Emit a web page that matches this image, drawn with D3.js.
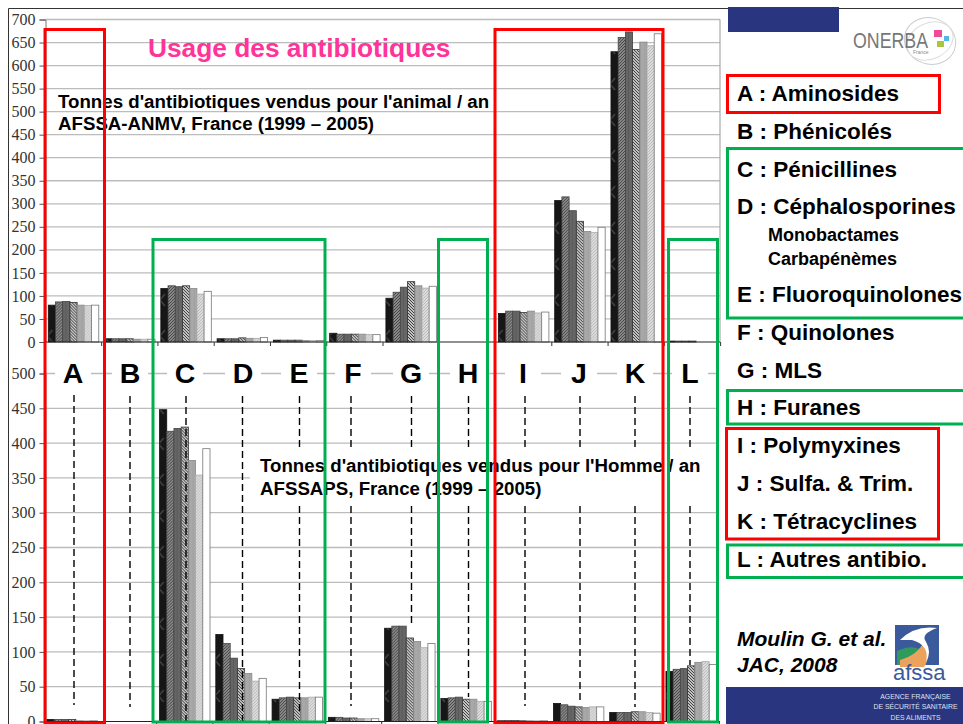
<!DOCTYPE html>
<html>
<head>
<meta charset="utf-8">
<script src="https://cdn.jsdelivr.net/npm/d3@7"></script>
<style>
  html, body { margin: 0; padding: 0; background: #fff; }
  svg { display: block; }
  text { font-family: "Liberation Sans", Arial, sans-serif; }
</style>
</head>
<body>
<svg id="chart" width="963" height="724"></svg>
<script>
// Data
const categories = ["A", "B", "C", "D", "E", "F", "G", "H", "I", "J", "K", "L"];
const years = ["1999", "2000", "2001", "2002", "2003", "2004", "2005"];

// tonnes per year, animal (one row per category)
const animalA = [80, 87, 88, 86, 80, 79, 80];
const animalB = [7, 7, 7, 7, 6, 6, 6];
const animalC = [116, 122, 120, 122, 116, 104, 110];
const animalD = [7, 7, 7, 9, 8, 8, 10];
const animalE = [4, 4, 4, 4, 3, 3, 3];
const animalF = [19, 17, 17, 17, 17, 16, 16];
const animalG = [95, 108, 119, 131, 122, 117, 121];
const animalH = [0, 0, 0, 0, 0, 0, 0];
const animalI = [62, 67, 67, 64, 67, 63, 65];
const animalJ = [307, 315, 285, 262, 240, 238, 249];
const animalK = [630, 661, 673, 635, 651, 643, 669];
const animalL = [2, 2, 2, 2, 0, 0, 0];
const animalValues = [animalA, animalB, animalC, animalD, animalE, animalF, animalG, animalH, animalI, animalJ, animalK, animalL];

// tonnes per year, human
const humanA = [3, 3, 3, 3, 1, 1, 1];
const humanB = [0, 0, 0, 0, 0, 0, 0];
const humanC = [448, 417, 421, 423, 375, 354, 392];
const humanD = [125, 112, 91, 76, 69, 58, 62];
const humanE = [32, 34, 35, 34, 34, 35, 35];
const humanF = [6, 6, 5, 5, 4, 4, 4];
const humanG = [134, 137, 137, 120, 115, 106, 112];
const humanH = [33, 34, 35, 32, 32, 29, 29];
const humanI = [1, 1.5, 1.5, 1, 1, 1, 1];
const humanJ = [26, 24, 22, 21, 20, 21, 21];
const humanK = [13, 13, 13, 14, 14, 13, 12];
const humanL = [72, 75, 76, 80, 85, 86, 82];
const humanValues = [humanA, humanB, humanC, humanD, humanE, humanF, humanG, humanH, humanI, humanJ, humanK, humanL];

const animalTicks = d3.range(0, 701, 50);
const humanTicks = d3.range(0, 501, 50);

const legendLines = [
  { text: "A : Aminosides", y: 100.5 },
  { text: "B : Phénicolés", y: 138.5 },
  { text: "C : Pénicillines", y: 176.5 },
  { text: "D : Céphalosporines", y: 213.5 },
  { text: "Monobactames", y: 241, small: true },
  { text: "Carbapénèmes", y: 265, small: true },
  { text: "E : Fluoroquinolones", y: 301.5 },
  { text: "F : Quinolones", y: 340 },
  { text: "G : MLS", y: 377.5 },
  { text: "H : Furanes", y: 414.5 },
  { text: "I : Polymyxines", y: 452.5 },
  { text: "J : Sulfa. & Trim.", y: 490.5 },
  { text: "K : Tétracyclines", y: 528.5 },
  { text: "L : Autres antibio.", y: 566.5 }
];

const svg = d3.select("#chart");
const defs = svg.append("defs");

// Fill patterns for the seven years. The scan leaves chevrons on the hatched ones.
function addPattern(id, size, bg, draw) {
  const p = defs.append("pattern")
    .attr("id", id)
    .attr("patternUnits", "userSpaceOnUse")
    .attr("width", size)
    .attr("height", size);
  p.append("rect").attr("width", size).attr("height", size).attr("fill", bg);
  draw(p);
}
function hatch(p, size, step, color, up) {
  d3.range(-size, size + 1, step).forEach(o => {
    p.append("line")
      .attr("x1", o).attr("y1", up ? size : 0)
      .attr("x2", o + size).attr("y2", up ? 0 : size)
      .attr("stroke", color)
      .attr("stroke-width", 0.9);
  });
}
function chevron(p, d, color) {
  p.append("path").attr("d", d).attr("fill", "none").attr("stroke", color).attr("stroke-width", 1.4);
}
addPattern("y0", 36, "#161616", p => {
  chevron(p, "M7 6L2 12L7 18", "#444");
});
addPattern("y1", 36, "#8a8a8a", p => {
  hatch(p, 36, 3, "#3c3c3c", true);
  chevron(p, "M2 20L7 26", "#222");
});
addPattern("y2", 4, "#666", p => {
  p.append("rect").attr("width", 1).attr("height", 4).attr("fill", "#5a5a5a");
});
addPattern("y3", 36, "#c4c4c4", p => {
  hatch(p, 36, 3, "#2e2e2e", false);
  chevron(p, "M1 12L7 18", "#111");
});
addPattern("y4", 4, "#a8a8a8", p => {
  p.append("rect").attr("width", 1).attr("height", 4).attr("fill", "#a0a0a0");
});
addPattern("y5", 3, "#dcdcdc", p => {
  p.append("path").attr("d", "M0 3L3 0").attr("stroke", "#b4b4b4").attr("stroke-width", 0.8);
});

const barFill = i => i === 6 ? "#fff" : `url(#y${i})`;
const barStroke = ["#111", "#444", "#444", "#333", "#888", "#aaa", "#777"];

// Scales
const yAnimal = d3.scaleLinear().domain([0, 700]).range([342, 19.5]);
const yHuman = d3.scaleLinear().domain([0, 500]).range([721.5, 373.5]);
const xAnimal = d3.scaleBand().domain(categories).range([45.4, 720.6]);
const xHuman = d3.scaleBand().domain(categories).range([44.1, 719.3]);
const xYear = d3.scaleBand().domain(d3.range(years.length)).range([2.9, xAnimal.bandwidth() - 2.9]);

// Outer frame
svg.append("path")
  .attr("d", "M8.5 724V8.5H963")
  .attr("fill", "none")
  .attr("stroke", "#333")
  .attr("stroke-width", 1);

// One panel of grouped bars, its grid and axis
function drawPanel(y, x, ticks, rows, hasFrame) {
  const panel = svg.append("g");
  const left = 45.5, right = 720;

  const grid = panel.append("g");
  grid.selectAll("line")
    .data(ticks.filter(d => d > 0))
    .enter()
    .append("line")
    .attr("x1", left)
    .attr("x2", hasFrame ? right : 716)
    .attr("y1", d => y(d))
    .attr("y2", d => y(d))
    .attr("stroke", "#bcbcbc")
    .attr("stroke-width", 1.3);

  if (hasFrame) {
    panel.append("path")
      .attr("d", `M${right} ${y(0)}V${y(700)}`)
      .attr("stroke", "#aaa")
      .attr("stroke-width", 1.2);
  }

  const axis = panel.append("g")
    .attr("transform", `translate(${left},0)`)
    .call(d3.axisLeft(y).tickValues(ticks).tickSize(6).tickPadding(4));
  axis.select(".domain").attr("stroke", "#777");
  axis.selectAll(".tick line").attr("stroke", "#555");
  axis.selectAll("text")
    .attr("font-size", 16)
    .attr("fill", "#333")
    .style("font-family", "'Liberation Serif', serif");

  const groups = panel.selectAll(".cat")
    .data(categories)
    .enter()
    .append("g")
    .attr("class", "cat")
    .attr("transform", d => `translate(${x(d)},0)`);

  groups.selectAll("rect")
    .data((d, i) => rows[i].map((v, j) => ({ v: v, j: j })).filter(e => e.v > 0))
    .enter()
    .append("rect")
    .attr("x", d => xYear(d.j))
    .attr("width", xYear.bandwidth())
    .attr("y", d => y(d.v))
    .attr("height", d => y(0) - y(d.v))
    .attr("fill", d => barFill(d.j))
    .attr("stroke", d => barStroke[d.j])
    .attr("stroke-width", 0.8);

  // baseline and category ticks
  panel.append("line")
    .attr("x1", left).attr("x2", right)
    .attr("y1", y(0)).attr("y2", y(0))
    .attr("stroke", "#222").attr("stroke-width", 1.2);

  panel.append("g").selectAll("line")
    .data(categories.slice(1).concat("end"))
    .enter()
    .append("line")
    .attr("x1", d => d === "end" ? x.range()[1] : x(d))
    .attr("x2", d => d === "end" ? x.range()[1] : x(d))
    .attr("y1", y(0))
    .attr("y2", y(0) + 4)
    .attr("stroke", "#333");
  return panel;
}

drawPanel(yAnimal, xAnimal, animalTicks, animalValues, true);

// Human panel sits on the lower half; the 500 line is broken by the letters
drawPanel(yHuman, xHuman, humanTicks, humanValues, false);

// Dashed leaders from the letters down to the human bars
const dashGroups = [
  { k: "A", segs: [[395, 705]], cx: 74 },
  { k: "B", segs: [[396, 707]], cx: 130 },
  { k: "C", segs: [[396, 721]], cx: 186 },
  { k: "D", segs: [[396, 721]], cx: 242.5 },
  { k: "E", segs: [[396, 447], [506, 712]], cx: 299.5 },
  { k: "F", segs: [[396, 447], [506, 706]], cx: 351 },
  { k: "G", segs: [[396, 447], [506, 627]], cx: 411.5 },
  { k: "H", segs: [[396, 447], [506, 697]], cx: 468.5 },
  { k: "I", segs: [[396, 447], [506, 706]], cx: 525 },
  { k: "J", segs: [[396, 447], [506, 702]], cx: 580 },
  { k: "K", segs: [[396, 447], [506, 707]], cx: 635 },
  { k: "L", segs: [[396, 447], [506, 665]], cx: 690 }
];

// White mask behind the human panel caption
svg.append("rect")
  .attr("x", 250).attr("y", 446)
  .attr("width", 470).attr("height", 61)
  .attr("fill", "#fff");

const dashes = svg.append("g");
dashGroups.forEach(g => {
  g.segs.forEach(s => {
    dashes.append("line")
      .attr("x1", g.cx).attr("x2", g.cx)
      .attr("y1", s[0]).attr("y2", s[1])
      .attr("stroke", "#000")
      .attr("stroke-width", 1.4)
      .attr("stroke-dasharray", "7 4");
  });
});

// Big category letters with white knock-outs
const letterX = [73, 130, 185, 243, 299, 353, 411, 468, 523, 579, 635, 690];
const letters = svg.append("g");
letters.selectAll("rect")
  .data(categories)
  .enter()
  .append("rect")
  .attr("x", (d, i) => letterX[i] - 18)
  .attr("y", 360)
  .attr("width", 36)
  .attr("height", 26)
  .attr("fill", "#fff");
letters.selectAll("text")
  .data(categories)
  .enter()
  .append("text")
  .attr("x", (d, i) => letterX[i])
  .attr("y", 382.5)
  .attr("text-anchor", "middle")
  .attr("font-size", 28.5)
  .attr("font-weight", "bold")
  .attr("fill", "#000")
  .text(d => d);

// Titles
function label(txt, x, y, size, opts) {
  const o = opts || {};
  return svg.append("text")
    .attr("x", x).attr("y", y)
    .attr("font-size", size)
    .attr("font-weight", o.weight || "bold")
    .attr("font-style", o.italic ? "italic" : "normal")
    .attr("fill", o.fill || "#000")
    .text(txt);
}
label("Usage des antibiotiques", 148, 57, 26.3, { fill: "#ff3399" });
label("Tonnes d'antibiotiques vendus pour l'animal / an", 58, 108, 18.7);
label("AFSSA-ANMV, France (1999 – 2005)", 58, 130, 18.7);
label("Tonnes d'antibiotiques vendus pour l'Homme / an", 260, 472, 18.7);
label("AFSSAPS, France (1999 – 2005)", 260, 495, 18.7);

// Coloured boxes
const RED = "#ff0000", GREEN = "#00b050";
function box(x0, y0, x1, y1, color, w) {
  svg.append("rect")
    .attr("x", x0).attr("y", y0)
    .attr("width", x1 - x0).attr("height", y1 - y0)
    .attr("fill", "none")
    .attr("stroke", color)
    .attr("stroke-width", w || 3);
}
box(45, 29.5, 104.5, 723, RED);
box(495, 29.5, 663, 723, RED);
box(153, 239.5, 325, 722, GREEN);
box(438.5, 239.5, 487.5, 722, GREEN);
box(668.5, 239.5, 717.5, 722, GREEN);

// Legend
box(727.5, 75.5, 939.5, 112.5, RED);
box(727.5, 148.5, 970, 318, GREEN);
box(727.5, 390.5, 970, 424, GREEN);
box(726.5, 428.5, 938.5, 539, RED);
box(727.5, 545, 970, 577.5, GREEN);

legendLines.forEach(d => {
  label(d.text, d.small ? 768 : 737, d.y, d.small ? 18 : 22.5);
});

label("Moulin G. et al.", 737, 646, 21, { italic: true });
label("JAC, 2008", 737, 672, 21, { italic: true });

// Header and footer bands
svg.append("rect").attr("x", 728).attr("y", 7).attr("width", 111).attr("height", 25).attr("fill", "#2a3580");
svg.append("rect").attr("x", 726).attr("y", 687).attr("width", 237).attr("height", 37).attr("fill", "#2a3580");
["AGENCE FRANÇAISE", "DE SÉCURITÉ SANITAIRE", "DES ALIMENTS"].forEach((t, i) => {
  svg.append("text")
    .attr("x", 915.5).attr("y", 698.5 + i * 10.5)
    .attr("text-anchor", "middle")
    .attr("font-size", 6.9)
    .attr("fill", "#dfe2ee")
    .text(t);
});

// ONERBA logo
svg.append("ellipse").attr("cx", 930).attr("cy", 41).attr("rx", 26).attr("ry", 23)
  .attr("transform", "rotate(20 930 41)").attr("fill", "none").attr("stroke", "#ccc");
svg.append("ellipse").attr("cx", 930).attr("cy", 41).attr("rx", 24).attr("ry", 18)
  .attr("transform", "rotate(-25 930 41)").attr("fill", "none").attr("stroke", "#ddd");
label("ONERBA", 853, 47.5, 22, { weight: "normal", fill: "#777" }).attr("textLength", 75).attr("lengthAdjust", "spacingAndGlyphs");
label("France", 913, 53.5, 5, { weight: "normal", fill: "#888" });
svg.append("rect").attr("x", 934).attr("y", 30).attr("width", 8).attr("height", 7).attr("fill", "#ee4b9b");
svg.append("rect").attr("x", 944).attr("y", 36).attr("width", 5).attr("height", 5).attr("fill", "#55b5e6");
svg.append("rect").attr("x", 937).attr("y", 41).attr("width", 7).attr("height", 6).attr("fill", "#a8c640");

// afssa logo
svg.append("rect").attr("x", 895).attr("y", 625).attr("width", 44).attr("height", 40).attr("fill", "#3a5a9c");
svg.append("path").attr("d", "M897 651Q915 642 927 654L926 665H897Z").attr("fill", "#2f9a5c");
svg.append("path").attr("d", "M900 660Q918 655 925 640Q932 655 924 667H900Z").attr("fill", "#eba25c");
svg.append("path").attr("d", "M900 640Q915 625 937 628Q920 634 926 642Q932 652 926 662Q930 645 912 640Z").attr("fill", "#fff");
label("afssa", 893, 680, 22, { weight: "normal", fill: "#3a5a9c" });
</script>
</body>
</html>
